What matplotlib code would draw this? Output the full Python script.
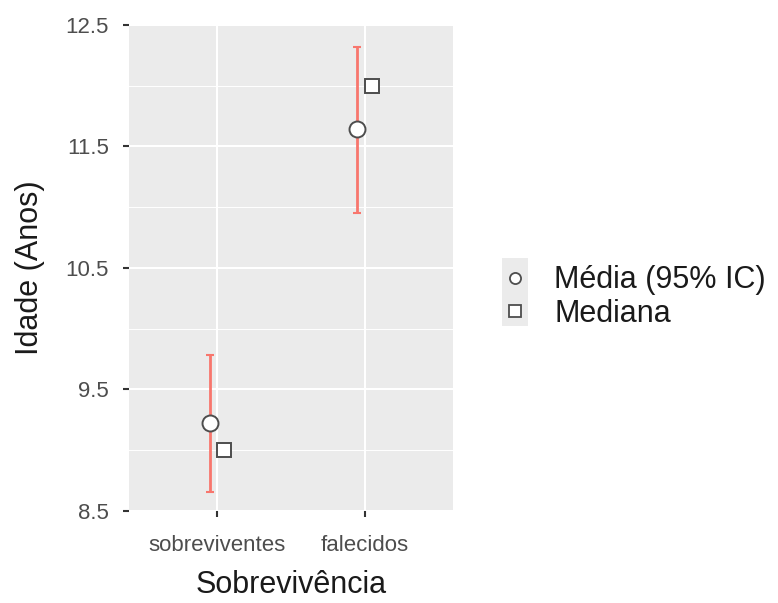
import matplotlib
matplotlib.use("Agg")
from matplotlib import pyplot as plt
from matplotlib.patches import Rectangle
from matplotlib.lines import Line2D

# dados
grupos = ["sobreviventes", "falecidos"]
media = [9.22, 11.64]
ic_inf = [8.66, 10.95]
ic_sup = [9.78, 12.32]
mediana = [9.0, 12.0]

plt.rcParams['font.family'] = ['Liberation Sans', 'DejaVu Sans']

cinza = "#EBEBEB"
texto = "#4D4D4D"
erro = "#F8766D"

fig = plt.figure(figsize=(7.78, 6.03), dpi=100)
ax = fig.add_axes([0.166, 0.1526, 0.416, 0.806])
ax.set_facecolor(cinza)

x = [1, 2]
xm = [i - 0.05 for i in x]
xd = [i + 0.05 for i in x]

# linhas de grade
for v in [9, 10, 11, 12]:
    ax.axhline(v, color="white", lw=0.7, zorder=0)
for v in [8.5, 9.5, 10.5, 11.5, 12.5]:
    ax.axhline(v, color="white", lw=1.5, zorder=0)
for v in x:
    ax.axvline(v, color="white", lw=1.5, zorder=0)

# barras de erro (IC 95%)
yerr = [[m - lo for m, lo in zip(media, ic_inf)],
        [hi - m for m, hi in zip(media, ic_sup)]]
ax.errorbar(xm, media, yerr=yerr, fmt="none", ecolor=erro, elinewidth=2,
            capsize=3, capthick=1.5, zorder=2)
ax.plot(xm, media, "o", ms=11.5, mfc="white", mec=texto, mew=1.4, ls="none", zorder=3)
ax.plot(xd, mediana, "s", ms=10, mfc="white", mec=texto, mew=1.4, ls="none", zorder=3)

ax.set_xlim(0.405, 2.595)
ax.set_ylim(8.5, 12.5)
ax.set_xticks(x)
ax.set_xticklabels(grupos)
ax.set_yticks([8.5, 9.5, 10.5, 11.5, 12.5])
ax.set_yticklabels(["8.5", "9.5", "10.5", "11.5", "12.5"])
ax.tick_params(colors="#333333", labelcolor=texto, labelsize=16, length=4.5,
               width=1.5)
ax.tick_params(axis="y", pad=10)
ax.tick_params(axis="x", pad=13)
for s in ax.spines.values():
    s.set_visible(False)

ax.set_xlabel("Sobrevivência", fontsize=22, color="#1a1a1a", labelpad=10)
ax.set_ylabel("Idade (Anos)", fontsize=22, color="#1a1a1a", labelpad=15)

# legenda
fig.patches.append(Rectangle((502 / 778, 1 - 326 / 603), 26 / 778, 68 / 603,
                             transform=fig.transFigure, facecolor=cinza,
                             edgecolor="none", zorder=0))
handles = [Line2D([], [], marker="o", ls="none", ms=8, mfc="white", mec=texto, mew=1.3),
           Line2D([], [], marker="s", ls="none", ms=8, mfc="white", mec=texto, mew=1.3)]
fig.legend(handles, ["Média (95% IC)", "Mediana"], loc="center left",
           bbox_to_anchor=(0.626, 1 - 297 / 603), frameon=False, fontsize=22,
           handlelength=0.8, handletextpad=0.9, labelspacing=0.1,
           labelcolor="#1a1a1a", borderpad=0)

fig.savefig("out.png", dpi=100)
